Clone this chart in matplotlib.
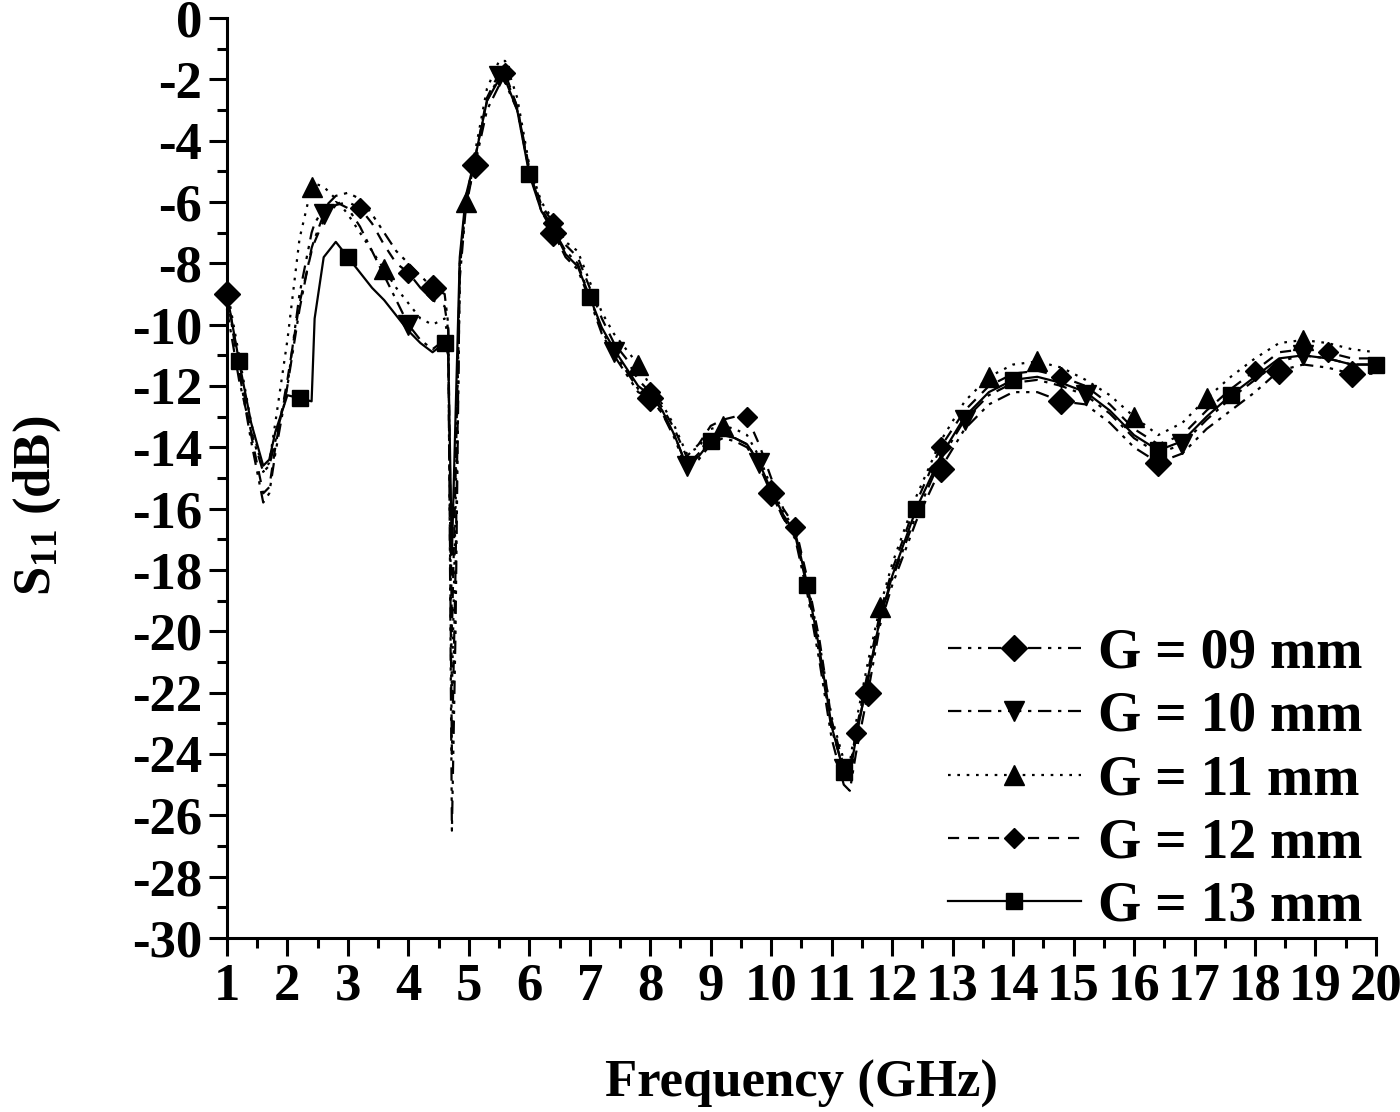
import matplotlib
matplotlib.use("Agg")
import matplotlib.pyplot as plt
from matplotlib.ticker import MultipleLocator

plt.rcParams["font.family"] = ["Liberation Serif", "DejaVu Serif"]
plt.rcParams["font.weight"] = "bold"
plt.rcParams["axes.unicode_minus"] = False
plt.rcParams["mathtext.fontset"] = "custom"
plt.rcParams["mathtext.rm"] = "Liberation Serif:bold"
plt.rcParams["mathtext.bf"] = "Liberation Serif:bold"
plt.rcParams["mathtext.default"] = "rm"

# frequency grid (GHz), shared by all five curves
freq = [1.0, 1.2, 1.4, 1.6, 1.7, 1.8, 2.0, 2.2, 2.4, 2.45,
        2.6, 2.8, 3.0, 3.2, 3.4, 3.6, 3.8, 4.0, 4.2, 4.4,
        4.6, 4.66, 4.72, 4.78, 4.85, 4.95, 5.1, 5.3, 5.5, 5.6,
        5.8, 6.0, 6.2, 6.4, 6.6, 6.8, 7.0, 7.2, 7.4, 7.6,
        7.8, 8.0, 8.2, 8.4, 8.6, 8.8, 9.0, 9.2, 9.4, 9.6,
        9.8, 10.0, 10.2, 10.4, 10.6, 10.8, 11.0, 11.2, 11.3, 11.4,
        11.6, 11.8, 12.0, 12.4, 12.8, 13.2, 13.6, 14.0, 14.4, 14.8,
        15.2, 15.6, 16.0, 16.4, 16.8, 17.2, 17.6, 18.0, 18.4, 18.8,
        19.2, 19.6, 20.0]

s11_g09 = [-9.0, -11.5, -13.8, -15.8, -15.5, -14.2, -12.0, -9.0, -7.0, -6.7,
           -6.2, -5.8, -5.7, -5.9, -6.4, -7.0, -7.6, -8.0, -8.4, -8.8,
           -9.0, -10.0, -26.5, -20.0, -8.0, -6.0, -4.8, -3.0, -2.2, -2.1,
           -3.0, -5.0, -6.3, -7.0, -7.8, -8.2, -9.2, -10.3, -11.0, -11.6,
           -12.2, -12.4, -12.9, -13.7, -14.7, -14.4, -13.9, -13.7, -13.8, -14.0,
           -14.6, -15.5, -16.3, -17.0, -18.8, -21.0, -23.5, -25.0, -25.2, -24.0,
           -22.0, -19.8, -18.5, -16.4, -14.7, -13.4, -12.6, -12.2, -12.2, -12.5,
           -12.6, -13.2, -14.0, -14.5, -14.2, -13.4, -12.8, -12.2, -11.5, -11.3,
           -11.4, -11.6, -11.6]

s11_g10 = [-9.5, -11.8, -13.5, -14.8, -14.6, -13.8, -12.0, -9.5, -7.5, -7.2,
           -6.4, -6.0, -6.2, -6.8, -7.6, -8.4, -9.2, -10.0, -10.5, -10.8,
           -10.5, -11.0, -24.0, -18.0, -8.5, -6.2, -4.7, -2.7, -1.9, -1.9,
           -2.9, -5.0, -6.2, -6.9, -7.6, -8.0, -9.1, -10.2, -10.9, -11.5,
           -12.1, -12.4, -12.9, -13.6, -14.6, -14.2, -13.6, -13.5, -13.7, -13.9,
           -14.5, -15.5, -16.3, -16.9, -18.6, -20.8, -23.2, -24.5, -24.6, -23.4,
           -21.6, -19.6, -18.3, -16.2, -14.4, -13.1, -12.3, -11.9, -11.8, -12.0,
           -12.3, -12.9, -13.7, -14.2, -13.9, -13.1, -12.4, -11.8, -11.2, -11.0,
           -11.1, -11.3, -11.3]

s11_g11 = [-8.8, -11.0, -13.2, -14.8, -14.5, -13.2, -10.5, -7.2, -5.5, -5.4,
           -5.5, -5.9, -6.4, -7.0, -7.6, -8.2, -8.8, -9.3, -9.8, -10.0,
           -9.8, -10.5, -22.0, -16.0, -8.0, -6.0, -4.4, -2.3, -1.4, -1.4,
           -2.6, -4.8, -6.0, -6.6, -7.3, -7.6, -8.6, -9.6, -10.3, -10.8,
           -11.3, -12.0, -12.6, -13.3, -14.2, -14.0, -13.4, -13.3, -13.4, -13.6,
           -14.3, -15.3, -16.1, -16.7, -18.4, -20.4, -22.8, -24.2, -24.3, -23.0,
           -21.0, -19.2, -17.8, -15.6, -13.8, -12.5, -11.7, -11.3, -11.2, -11.4,
           -11.8, -12.3, -13.0, -13.6, -13.2, -12.4, -11.7, -11.1, -10.6, -10.5,
           -10.6, -10.8, -10.9]

s11_g12 = [-9.0, -11.3, -13.6, -15.5, -15.3, -14.0, -11.8, -9.3, -7.6, -7.3,
           -6.6, -6.1, -6.0, -6.2, -6.7, -7.4, -8.0, -8.3, -8.8, -9.2,
           -9.4, -10.2, -20.0, -15.0, -8.2, -6.1, -4.6, -2.6, -1.8, -1.8,
           -2.9, -4.9, -6.1, -6.7, -7.4, -7.8, -8.8, -9.8, -10.6, -11.1,
           -11.8, -12.2, -12.7, -13.4, -14.3, -13.9, -13.3, -13.1, -13.0, -13.0,
           -13.9, -15.0, -16.0, -16.6, -18.3, -20.3, -22.9, -24.4, -24.5, -23.3,
           -21.3, -19.4, -18.0, -15.8, -14.0, -12.8, -12.0, -11.6, -11.5, -11.7,
           -12.0, -12.6, -13.4, -13.9, -13.6, -12.8, -12.1, -11.5, -10.9, -10.8,
           -10.9, -11.1, -11.1]

s11_g13 = [-9.0, -11.2, -13.2, -14.6, -14.4, -13.5, -12.3, -12.4, -12.5, -9.8,
           -7.8, -7.3, -7.8, -8.3, -8.8, -9.2, -9.7, -10.2, -10.6, -10.9,
           -10.6, -11.0, -17.5, -13.0, -7.8, -5.8, -4.6, -2.7, -2.0, -2.0,
           -3.0, -5.1, -6.3, -6.9, -7.7, -8.1, -9.1, -10.1, -10.8, -11.4,
           -12.0, -12.3, -12.8, -13.6, -14.6, -14.3, -13.8, -13.6, -13.7, -13.9,
           -14.5, -15.4, -16.2, -16.8, -18.5, -20.6, -23.1, -24.6, -24.7, -23.5,
           -21.5, -19.6, -18.2, -16.0, -14.3, -13.0, -12.2, -11.8, -11.7, -11.9,
           -12.2, -12.8, -13.6, -14.1, -13.8, -13.0, -12.3, -11.7, -11.1, -11.0,
           -11.1, -11.3, -11.3]

labels = ["G = 09 mm", "G = 10 mm", "G = 11 mm", "G = 12 mm", "G = 13 mm"]

fig = plt.figure(figsize=(14, 11.12), dpi=100)
ax = fig.add_axes([0.1621, 0.1565, 0.8207, 0.8273])

# line style, marker and which grid points carry a marker, per curve
styles = [
    dict(ls=(0, (6, 3, 1.5, 3, 1.5, 3)), marker="D", ms=13,
         markevery=[0, 19, 26, 33, 41, 51, 60, 64, 69, 73, 78, 81]),
    dict(ls=(0, (6, 3, 1.5, 3)), marker="v", ms=15,
         markevery=[10, 17, 28, 38, 44, 50, 57, 65, 70, 74, 79]),
    dict(ls=(0, (1.2, 3)), marker="^", ms=15,
         markevery=[8, 15, 25, 40, 47, 61, 66, 68, 72, 75, 79]),
    dict(ls=(0, (5, 4)), marker="D", ms=10,
         markevery=[13, 17, 29, 33, 41, 49, 53, 59, 64, 69, 77, 80]),
    dict(ls="-", marker="s", ms=12,
         markevery=[1, 7, 12, 20, 31, 36, 46, 54, 57, 63, 67, 73, 76, 82]),
]
for ys, lab, st in zip([s11_g09, s11_g10, s11_g11, s11_g12, s11_g13], labels, styles):
    ax.plot(freq, ys, color="black", lw=1.6, label=lab, clip_on=False, **st)

ax.set_xlim(1, 20)
ax.set_ylim(-30, 0)
ax.xaxis.set_major_locator(MultipleLocator(1))
ax.xaxis.set_minor_locator(MultipleLocator(0.5))
ax.yaxis.set_major_locator(MultipleLocator(2))
ax.yaxis.set_minor_locator(MultipleLocator(1))
for side in ("top", "right"):
    ax.spines[side].set_visible(False)
for side in ("left", "bottom"):
    ax.spines[side].set_linewidth(2.2)
ax.tick_params(which="major", direction="out", length=13, width=2.2, labelsize=38, pad=5)
ax.tick_params(which="minor", direction="out", length=7, width=2.2)

ax.set_xlabel("Frequency (GHz)", fontsize=38, fontweight="bold")
ax.xaxis.set_label_coords(0.5, -0.133)
ax.set_ylabel("S$_{11}$ (dB)", fontsize=38, fontweight="bold")
ax.yaxis.set_label_coords(-0.143, 0.47)

ax.legend(loc="lower right", bbox_to_anchor=(1.017, -0.03), frameon=False, fontsize=40,
          handlelength=2.4, handletextpad=0.3, labelspacing=0.2, borderaxespad=0.2)

fig.savefig("out.png", dpi=100)
